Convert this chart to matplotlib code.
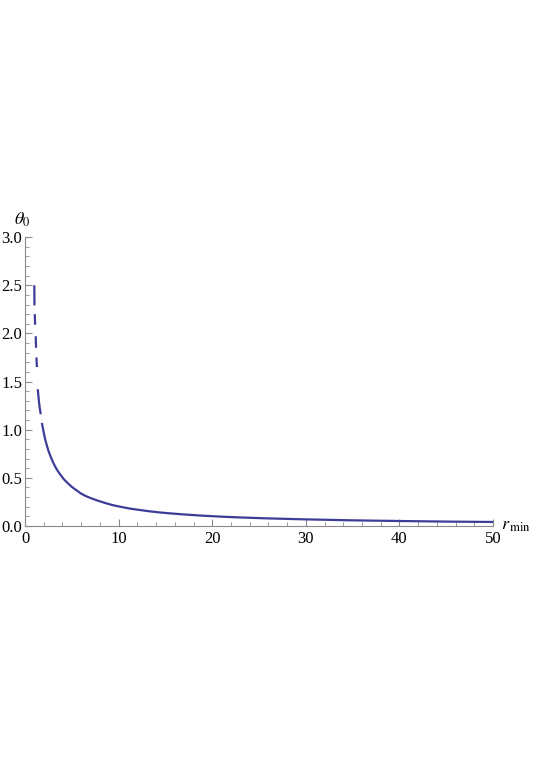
import numpy as np
import matplotlib
matplotlib.use("Agg")
import matplotlib.pyplot as plt
from matplotlib.ticker import MultipleLocator

# Values; NaN marks the small breaks in the steep part.
r_min = [0.99, 1.01, np.nan, 1.04, 1.08, np.nan, 1.14, 1.18, np.nan, 1.22, 1.27, np.nan,
         1.36, 1.43, 1.5, 1.58, 1.68, np.nan,
         1.8, 1.9, 2.0, 2.15, 2.32, 2.5, 2.7, 2.95, 3.2, 3.5, 3.8, 4.1, 4.5, 5.0,
         5.5, 6.0, 6.5, 7.0, 7.7, 8.5, 9.4, 10.3, 11.2, 12.3, 13.2, 14.3, 15.3, 17,
         18.7, 21, 23, 26, 30, 35, 40, 45, 50]
theta0 = [2.50, 2.29, np.nan, 2.20, 2.09, np.nan, 1.97, 1.85, np.nan, 1.75, 1.65, np.nan,
          1.42, 1.35, 1.28, 1.22, 1.16, np.nan,
          1.07, 1.02, 0.97, 0.90, 0.84, 0.78, 0.73, 0.67, 0.62, 0.57, 0.53, 0.49, 0.45, 0.405,
          0.37, 0.335, 0.31, 0.29, 0.265, 0.24, 0.215, 0.197, 0.18, 0.165, 0.153, 0.141, 0.132, 0.119,
          0.108, 0.096, 0.088, 0.078, 0.068, 0.058, 0.051, 0.045, 0.041]

x_ticks = [0, 10, 20, 30, 40, 50]
y_ticks = [0.0, 0.5, 1.0, 1.5, 2.0, 2.5, 3.0]

LINE = "#3d3d99"
AXIS = "#8a8a8a"

plt.rcParams["font.family"] = ["Liberation Serif", "DejaVu Serif"]
plt.rcParams["mathtext.fontset"] = "stix"

fig = plt.figure(figsize=(5.37, 7.6), dpi=100)
ax = fig.add_axes([0.0466, 0.308, 0.8715, 0.38])

ax.plot(r_min, theta0, color=LINE, lw=1.6, solid_capstyle="butt", solid_joinstyle="round")

ax.set_xlim(0, 50)
ax.set_ylim(0, 3.0)
for side in ("top", "right"):
    ax.spines[side].set_visible(False)
for side in ("left", "bottom"):
    ax.spines[side].set_color(AXIS)
    ax.spines[side].set_linewidth(0.8)

ax.set_xticks(x_ticks)
ax.set_yticks(y_ticks)
ax.set_yticklabels([f"{v:.1f}" for v in y_ticks])
ax.xaxis.set_minor_locator(MultipleLocator(2))
ax.yaxis.set_minor_locator(MultipleLocator(0.1))
ax.tick_params(which="major", direction="in", length=5, width=0.8, color=AXIS,
               labelsize=12, pad=2)
ax.tick_params(axis="x", which="major", pad=4)
ax.tick_params(which="minor", direction="in", length=3, width=0.6, color=AXIS)

ax.text(50.8, 0.0, r"$r_{\,\mathrm{min}}$", fontsize=13, ha="left", va="center")
ax.text(-0.3, 3.08, r"$\theta_0$", fontsize=13, ha="center", va="bottom")

fig.savefig("out.png", dpi=100)
